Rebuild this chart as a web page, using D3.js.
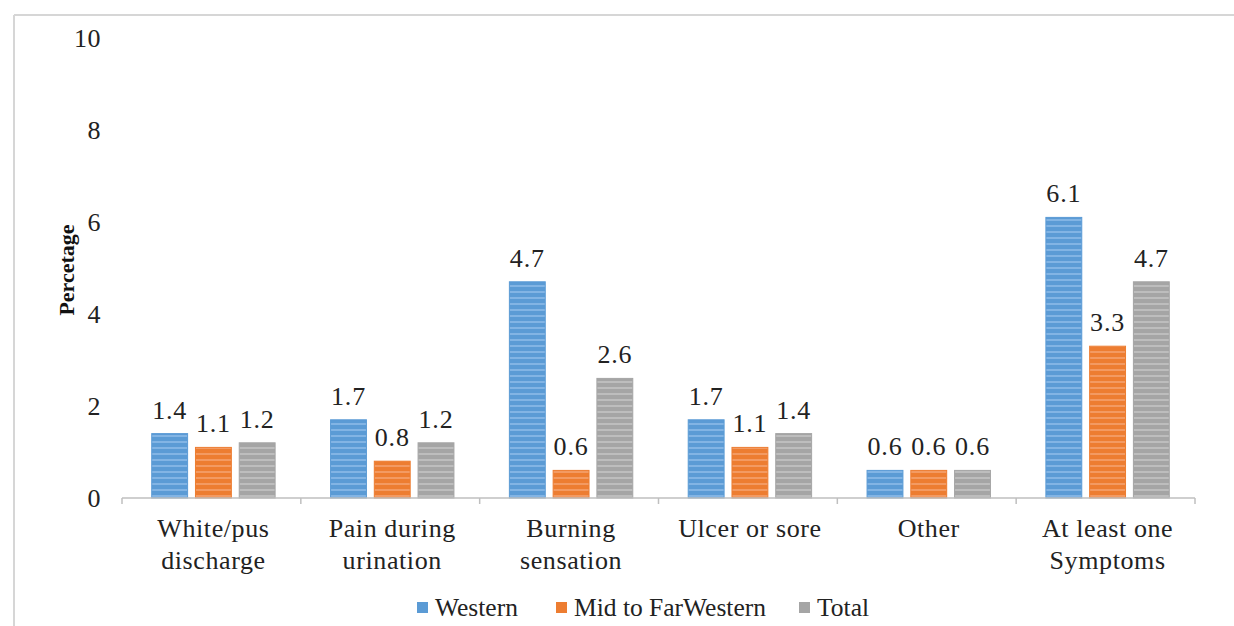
<!DOCTYPE html>
<html>
<head>
<meta charset="utf-8">
<script src="https://cdn.jsdelivr.net/npm/d3@7"></script>
<style>
    body { margin: 0; background: #fff; }
</style>
</head>
<body>
<svg id="chart" width="1234" height="626"></svg>
<script>
const categories = [
    ["White/pus", "discharge"],
    ["Pain during", "urination"],
    ["Burning", "sensation"],
    ["Ulcer or sore"],
    ["Other"],
    ["At least one", "Symptoms"],
];
const seriesNames = ["Western", "Mid to FarWestern", "Total"];
const western = [1.4, 1.7, 4.7, 1.7, 0.6, 6.1];
const midFarWestern = [1.1, 0.8, 0.6, 1.1, 0.6, 3.3];
const total = [1.2, 1.2, 2.6, 1.4, 0.6, 4.7];
const yTicks = [0, 2, 4, 6, 8, 10];

const FONT = "'Liberation Serif', 'Times New Roman', 'DejaVu Serif', serif";
const colors = ["#5b9bd5", "#ed7d31", "#a5a5a5"];
const stripe = ["#82b4e4", "#f39a62", "#bdbdbd"];
const values = [western, midFarWestern, total];

const svg = d3.select("#chart")
    .attr("font-family", FONT)
    .style("font-family", FONT);

// frame lines (top and left edges of the figure)
svg.append("line").attr("x1", 14).attr("x2", 1234).attr("y1", 15).attr("y2", 15)
    .attr("stroke", "#d6d6d6").attr("stroke-width", 2);
svg.append("line").attr("x1", 14).attr("x2", 14).attr("y1", 15).attr("y2", 626)
    .attr("stroke", "#d6d6d6").attr("stroke-width", 2);

// horizontal stripe patterns for the bars
const defs = svg.append("defs");
colors.forEach((c, i) => {
    const p = defs.append("pattern")
        .attr("id", "stripe" + i)
        .attr("patternUnits", "userSpaceOnUse")
        .attr("width", 8).attr("height", 6);
    p.append("rect").attr("width", 8).attr("height", 6).attr("fill", c);
    p.append("rect").attr("y", 3).attr("width", 8).attr("height", 2).attr("fill", stripe[i]);
});

const x0 = d3.scaleBand()
    .domain(d3.range(categories.length))
    .range([122, 1195])
    .paddingInner(0.31)
    .paddingOuter(0.155);

const x1 = d3.scaleBand()
    .domain(d3.range(seriesNames.length))
    .range([0, x0.bandwidth()])
    .paddingInner(0.18);

const y = d3.scaleLinear().domain([0, 10]).range([498, 38]);

// y tick labels (no axis line)
const yAxis = svg.append("g")
    .attr("transform", "translate(122,0)")
    .call(d3.axisLeft(y).tickValues(yTicks).tickSize(0).tickPadding(21));
yAxis.attr("font-family", FONT).attr("font-size", 26);
yAxis.select(".domain").remove();
yAxis.selectAll("text").attr("fill", "#222").attr("letter-spacing", 0.5);

// y title
svg.append("text")
    .attr("transform", "translate(74,270) rotate(-90)")
    .attr("text-anchor", "middle")
    .attr("font-size", 22)
    .attr("font-weight", "bold")
    .attr("fill", "#111")
    .text("Percetage");

// bars
const groups = svg.append("g").selectAll("g")
    .data(categories)
    .join("g")
    .attr("transform", (d, i) => `translate(${x0(i) + 2},0)`);

groups.each(function (d, ci) {
    const g = d3.select(this);
    seriesNames.forEach((s, si) => {
        const v = values[si][ci];
        g.append("rect")
            .attr("x", x1(si))
            .attr("y", y(v))
            .attr("width", x1.bandwidth())
            .attr("height", y(0) - y(v))
            .attr("fill", `url(#stripe${si})`)
            .attr("stroke", colors[si])
            .attr("stroke-width", 1);
        g.append("text")
            .attr("x", x1(si) + x1.bandwidth() / 2)
            .attr("y", y(v) - 15)
            .attr("text-anchor", "middle")
            .attr("font-size", 26)
            .attr("letter-spacing", 0.8)
            .attr("fill", "#222")
            .text(v.toFixed(1));
    });
});

// x axis line with ticks at category boundaries
const axisG = svg.append("g");
axisG.append("line")
    .attr("x1", 122).attr("x2", 1195).attr("y1", y(0)).attr("y2", y(0))
    .attr("stroke", "#bfbfbf").attr("stroke-width", 1.5);
d3.range(categories.length + 1).forEach(i => {
    const xx = 122 + i * (1195 - 122) / categories.length;
    axisG.append("line")
        .attr("x1", xx).attr("x2", xx).attr("y1", y(0)).attr("y2", y(0) + 6)
        .attr("stroke", "#bfbfbf").attr("stroke-width", 1.5);
});

// category labels
categories.forEach((lines, i) => {
    const cx = x0(i) + x0.bandwidth() / 2 + 2;
    const t = svg.append("text")
        .attr("x", cx)
        .attr("y", 537)
        .attr("text-anchor", "middle")
        .attr("font-size", 26)
        .attr("letter-spacing", 0.6)
        .attr("fill", "#222");
    lines.forEach((ln, j) => {
        t.append("tspan").attr("x", cx).attr("dy", j === 0 ? 0 : 32).text(ln);
    });
});

// legend
const legendX = [417, 556, 799];
const legend = svg.append("g");
seriesNames.forEach((s, i) => {
    legend.append("rect")
        .attr("x", legendX[i]).attr("y", 602)
        .attr("width", 11).attr("height", 11)
        .attr("fill", colors[i]);
    legend.append("text")
        .attr("x", legendX[i] + 18).attr("y", 616)
        .attr("font-size", 25.5)
        .attr("fill", "#222")
        .text(s);
});
</script>
</body>
</html>
